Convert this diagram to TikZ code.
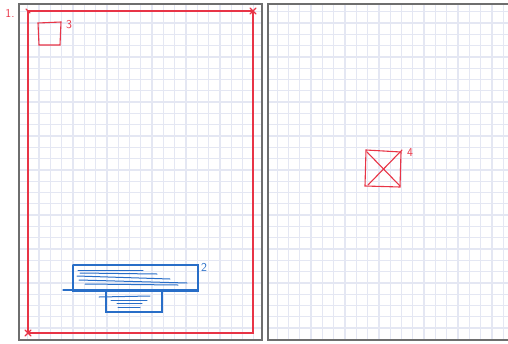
\documentclass[tikz,border=0pt]{standalone}
\usetikzlibrary{positioning}
\definecolor{penred}{RGB}{232,52,70}
\definecolor{penblue}{RGB}{40,110,200}
\definecolor{gridblue}{RGB}{228,231,243}
\definecolor{pagegray}{RGB}{110,110,110}
\tikzset{
  gridline/.style={gridblue,line width=1.3pt},
  pageedge/.style={pagegray,line width=1.1pt},
  redpen/.style={penred,line width=1.1pt,line cap=round},
  bluepen/.style={penblue,line width=1.1pt,line cap=round},
  hatch/.style={penblue,line width=1pt,line cap=round},
  redlabel/.style={text=penred,font=\sffamily\large,inner sep=0pt},
  bluelabel/.style={text=penblue,font=\sffamily\large,inner sep=0pt}
}
\begin{document}
\begin{tikzpicture}[x=1pt,y=-1pt]
\useasboundingbox (0,0) rectangle (508,343);
\fill[white] (0,0) rectangle (508,343);
% grid of the left sheet
\begin{scope}
\clip (19,4) rectangle (262,339);
\foreach \i in {0,...,22} \draw[gridline] (5.2+11.3*\i,4) -- (5.2+11.3*\i,339);
\foreach \j in {0,...,30} \draw[gridline] (19,0.4+11.3*\j) -- (262,0.4+11.3*\j);
\end{scope}
% grid of the right sheet
\begin{scope}
\clip (268,4) rectangle (508,339);
\foreach \i in {0,...,22} \draw[gridline] (265.9+11.3*\i,4) -- (265.9+11.3*\i,339);
\foreach \j in {0,...,30} \draw[gridline] (268,0.4+11.3*\j) -- (508,0.4+11.3*\j);
\end{scope}
\draw[pageedge] (19,4) rectangle (262,340);
\draw[pageedge] (268,4) rectangle (512,340);
% red frame on sheet 1
\draw[redpen] (28,11) -- (253,11) -- (253,333) -- (28,333) -- cycle;
\draw[redpen] (250,8) -- (256,14) (256,8) -- (250,14);
\draw[redpen] (25,330) -- (31,336) (31,330) -- (25,336);
\draw[redpen] (26,9) -- (30,13);
\node[redlabel] (one) at (10,13) {1.};
% small square 3
\draw[redpen] (38,23) -- (61,22) -- (60,45) -- (39,45) -- cycle;
\node[redlabel] (three) at (69,25) {3};
% blue block 2
\draw[bluepen] (73,265) -- (198,265) -- (198,291) -- (73,291) -- (73,265);
\draw[bluepen] (63,290) -- (198,290);
\draw[bluepen] (106,290) -- (106,312) -- (162,312) -- (162,290);
\draw[hatch] (78,270) -- (143,270);
\draw[hatch] (80,273) -- (157,274);
\draw[hatch] (77,276) -- (170,279);
\draw[hatch] (79,280) -- (187,283);
\draw[hatch] (85,284) -- (178,285);
\draw[hatch] (99,297) -- (150,296);
\draw[hatch] (111,300) -- (147,300);
\draw[hatch] (117,303) -- (142,303);
\draw[hatch] (118,307) -- (140,307);
\node[bluelabel] (two) at (204,267) {2};
% square 4 on sheet 2
\draw[redpen] (366,150) -- (401,152) -- (400,187) -- (365,186) -- cycle;
\draw[redpen] (367,152) -- (400,186);
\draw[redpen] (368,185) -- (402,150);
\node[redlabel] (four) at (410,153) {4};
\end{tikzpicture}
\end{document}
